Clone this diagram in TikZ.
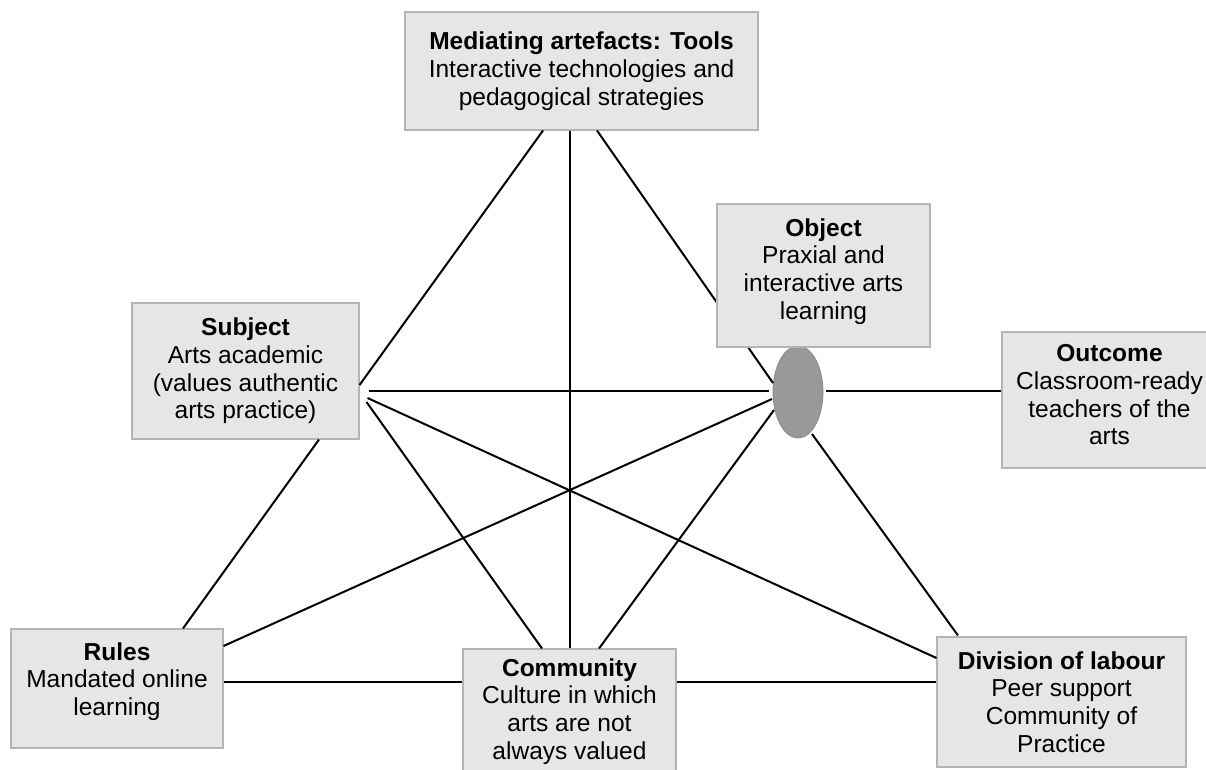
\documentclass[tikz,border=0pt]{standalone}
\usepackage{fontspec}
\setmainfont{Liberation Sans}
\usetikzlibrary{calc,shapes.geometric}
\definecolor{boxfill}{HTML}{E6E6E6}
\definecolor{boxline}{HTML}{B4B4B4}
\definecolor{hubfill}{HTML}{999999}
\definecolor{hubline}{HTML}{8A8A8A}
\begin{document}
\begin{tikzpicture}[x=0.75pt,y=-0.75pt,
  box/.style={draw=boxline,line width=0.8pt,fill=boxfill,inner sep=0pt,align=center,
    font=\fontsize{18.4}{20.8}\selectfont},
  link/.style={draw=black,line width=1.5pt}]
\useasboundingbox (0,0) rectangle (1206,769);
\fill[white] (0,0) rectangle (1206,769);

% activity-system elements
\node[box,minimum width=264.75pt,minimum height=88.5pt] (tools) at (581.5,71)
  {\textbf{Mediating artefacts: Tools}\\Interactive technologies and\\pedagogical strategies};
\node[box,minimum width=170.25pt,minimum height=102pt] (subject) at (245.5,371)
  {\textbf{Subject}\\Arts academic\\(values authentic\\arts practice)};
\node[box,minimum width=161.25pt,minimum height=102pt,text depth=8pt] (outcome) at (1109.5,400)
  {\textbf{Outcome}\\Classroom-ready\\teachers of the\\arts};
\node[box,minimum width=159pt,minimum height=89.25pt,text depth=14.5pt] (rules) at (117,688.5)
  {\textbf{Rules}\\Mandated online\\learning};
\node[box,minimum width=159.75pt,minimum height=93.75pt] (community) at (569.5,711.5)
  {\textbf{Community}\\Culture in which\\arts are not\\always valued};
\node[box,minimum width=186.75pt,minimum height=97.5pt] (division) at (1061.5,702)
  {\textbf{Division of labour}\\Peer support\\Community of\\Practice};

% object hub
\node[draw=hubline,line width=0.6pt,fill=hubfill,ellipse,inner sep=0pt,
  minimum width=37.5pt,minimum height=69pt] (hub) at (798,392) {};

% the tools-to-hub line runs behind the object box
\draw[link] ($(tools.south)+(15.5,0)$) -- ($(hub.center)+(-25,-9)$);
\node[box,minimum width=159.75pt,minimum height=107.25pt,text depth=10pt] (object) at (823.5,275.5)
  {\textbf{Object}\\Praxial and\\interactive arts\\learning};

% remaining connectors
\draw[link] ($(tools.south)+(-38.5,0)$) -- ($(subject.east)+(0,14)$);
\draw[link] (community.north |- tools.south) -- (community.north);
\draw[link] ($(subject.east)+(9,20)$) -- ($(hub.center)+(-29,-1)$);
\draw[link] ($(hub.center)+(28,-1)$) -- ($(outcome.west)+(0,-9)$);
\draw[link] ($(subject.east)+(8,27)$) -- ($(division.west)+(0,-44)$);
\draw[link] ($(subject.east)+(7,31)$) -- ($(community.north)+(-27.5,0)$);
\draw[link] ($(subject.south)+(73.5,0)$) -- ($(rules.north)+(66,0)$);
\draw[link] ($(rules.east)+(0,-42.5)$) -- ($(hub.center)+(-26,7)$);
\draw[link] ($(rules.east)+(0,-6.5)$) -- ($(community.west)+(0,-29.5)$);
\draw[link] ($(community.east)+(0,-29.5)$) -- ($(division.west)+(0,-20)$);
\draw[link] ($(community.north)+(29.5,0)$) -- ($(hub.center)+(-24,18)$);
\draw[link] ($(hub.center)+(14,42)$) -- ($(division.north)+(-103.5,-1)$);
\end{tikzpicture}
\end{document}
